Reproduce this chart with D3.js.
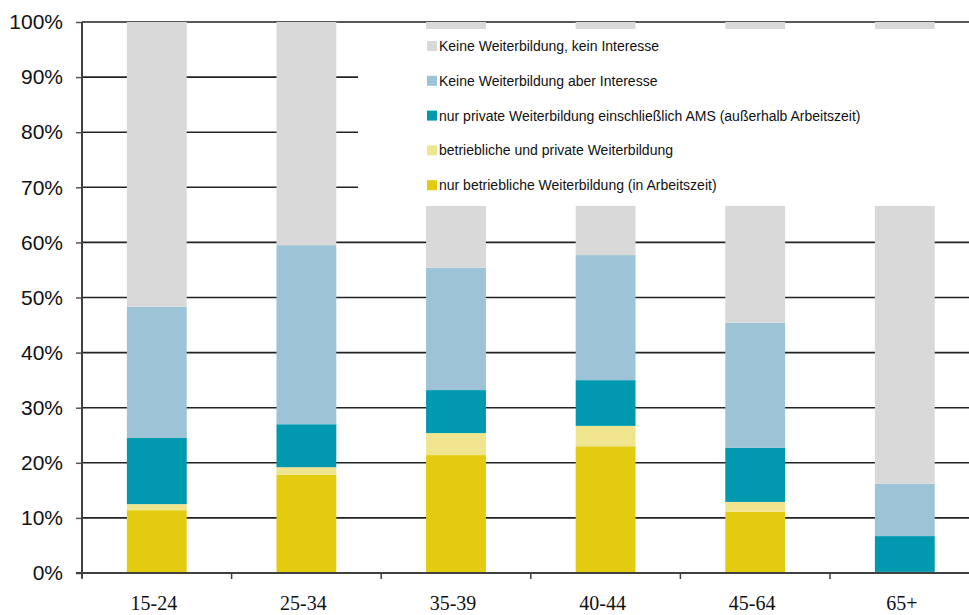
<!DOCTYPE html>
<html>
<head>
<meta charset="utf-8">
<script src="https://cdn.jsdelivr.net/npm/d3@7"></script>
<style>
  body { margin: 0; background: #fff; }
  svg { display: block; }
</style>
</head>
<body>
<div id="chart"></div>
<script>
// age groups and shares (percent), bottom to top
var categories = ["15-24", "25-34", "35-39", "40-44", "45-64", "65+"];
var seriesNames = [
    "nur betriebliche Weiterbildung (in Arbeitszeit)",
    "betriebliche und private Weiterbildung",
    "nur private Weiterbildung einschließlich AMS (außerhalb Arbeitszeit)",
    "Keine Weiterbildung aber Interesse",
    "Keine Weiterbildung, kein Interesse"
];
var onlyCompany = [11.4, 17.8, 21.4, 23.0, 11.1, 0.2];
var companyAndPrivate = [1.1, 1.4, 4.0, 3.7, 1.8, 0.0];
var onlyPrivate = [12.0, 7.8, 7.8, 8.3, 9.8, 6.5];
var noButInterest = [23.8, 32.5, 22.2, 22.7, 22.7, 9.5];
var noNoInterest = [51.7, 40.5, 44.6, 42.3, 54.6, 83.8];
var yTicks = [0, 10, 20, 30, 40, 50, 60, 70, 80, 90, 100];

var colors = ["#e3cb10", "#f0e58f", "#0099b0", "#9dc3d6", "#d9d9d9"];

var width = 969, height = 615;
var margin = { top: 22, left: 82 },
    plotBottom = 573,
    step = 149.6;

var svg = d3.select("#chart")
    .append("svg")
    .attr("width", width)
    .attr("height", height);

var table = categories.map(function (c, i) {
    return {
        cat: c,
        s0: onlyCompany[i],
        s1: companyAndPrivate[i],
        s2: onlyPrivate[i],
        s3: noButInterest[i],
        s4: noNoInterest[i]
    };
});

var keys = ["s0", "s1", "s2", "s3", "s4"];
var stacked = d3.stack().keys(keys)(table);

var xScale = d3.scaleBand()
    .domain(categories)
    .range([margin.left, margin.left + step * categories.length])
    .padding(0);
var yScale = d3.scaleLinear().domain([0, 100]).range([plotBottom, margin.top]);

var barW = xScale.bandwidth() * 0.4;

//gridlines
svg.append("g")
    .selectAll("line")
    .data(yTicks.filter(function (d) { return d > 0; }))
    .enter()
    .append("line")
    .attr("x1", margin.left)
    .attr("x2", width)
    .attr("y1", function (d) { return yScale(d); })
    .attr("y2", function (d) { return yScale(d); })
    .attr("stroke", "#222")
    .attr("stroke-width", 1.6);

//bars
svg.append("g")
    .selectAll("g")
    .data(stacked)
    .enter()
    .append("g")
    .attr("fill", function (d, i) { return colors[i]; })
    .selectAll("rect")
    .data(function (d) { return d; })
    .enter()
    .append("rect")
    .attr("x", function (d) { return xScale(d.data.cat) + (xScale.bandwidth() - barW) / 2; })
    .attr("y", function (d) { return yScale(d[1]); })
    .attr("width", barW)
    .attr("height", function (d) { return yScale(d[0]) - yScale(d[1]); });

//white legend box lying over the bars
svg.append("rect")
    .attr("x", 358)
    .attr("y", 29)
    .attr("width", width - 358)
    .attr("height", 177)
    .attr("fill", "#fff");

//y axis
var yAxis = svg.append("g")
    .attr("transform", "translate(" + margin.left + ",0)")
    .call(d3.axisLeft(yScale)
        .tickValues(yTicks)
        .tickSize(6)
        .tickFormat(function (d) { return d + "%"; }));
yAxis.select(".domain").remove();
yAxis.selectAll("line").attr("stroke", "#555").attr("stroke-width", 1.5);
yAxis.selectAll("text")
    .attr("x", -19)
    .attr("fill", "#111")
    .style("font-family", "'Liberation Sans', Arial, sans-serif")
    .style("font-size", "21px");

svg.append("line")
    .attr("x1", margin.left).attr("x2", margin.left)
    .attr("y1", margin.top).attr("y2", plotBottom + 5)
    .attr("stroke", "#404040").attr("stroke-width", 2);

//x axis
var xAxis = svg.append("g")
    .attr("transform", "translate(0," + plotBottom + ")")
    .call(d3.axisBottom(xScale).tickSize(0).tickPadding(23));
xAxis.select(".domain").remove();
xAxis.selectAll("text")
    .attr("fill", "#111")
    .attr("dx", -3)
    .style("font-family", "'Liberation Serif', 'Times New Roman', serif")
    .style("font-size", "20px");

svg.append("line")
    .attr("x1", margin.left - 6).attr("x2", width)
    .attr("y1", plotBottom).attr("y2", plotBottom)
    .attr("stroke", "#404040").attr("stroke-width", 2);

svg.append("g")
    .selectAll("line")
    .data(categories)
    .enter()
    .append("line")
    .attr("x1", function (d) { return xScale(d); })
    .attr("x2", function (d) { return xScale(d); })
    .attr("y1", plotBottom)
    .attr("y2", plotBottom + 6)
    .attr("stroke", "#404040")
    .attr("stroke-width", 1.5);

//legend, top entry first
var legendOrder = [4, 3, 2, 1, 0];
var legend = svg.append("g")
    .selectAll("g")
    .data(legendOrder)
    .enter()
    .append("g")
    .attr("transform", function (d, i) { return "translate(427," + (46 + i * 34.8) + ")"; });

legend.append("rect")
    .attr("x", 0)
    .attr("y", -5)
    .attr("width", 10)
    .attr("height", 10)
    .attr("fill", function (d) { return colors[d]; });

legend.append("text")
    .attr("x", 12)
    .attr("y", 0)
    .attr("dy", "0.35em")
    .attr("fill", "#111")
    .style("font-family", "'Liberation Sans', Arial, sans-serif")
    .style("font-size", "14px")
    .text(function (d) { return seriesNames[d]; });
</script>
</body>
</html>
